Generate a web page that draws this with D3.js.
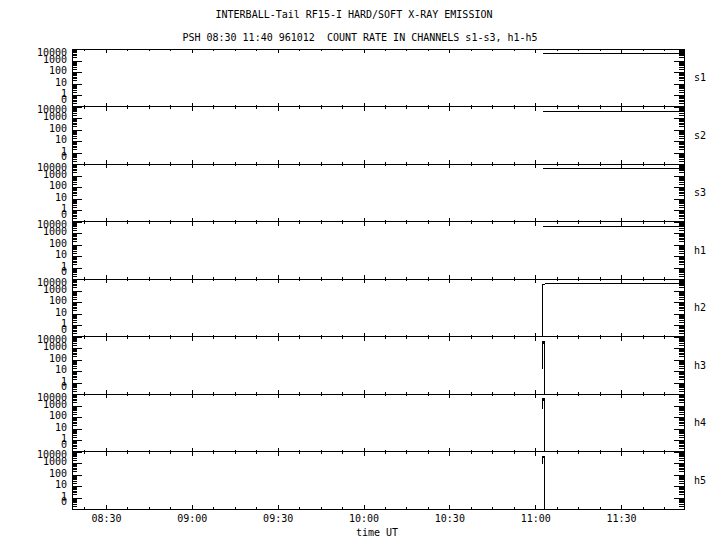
<!DOCTYPE html>
<html>
<head>
<meta charset="utf-8">
<script src="https://cdn.jsdelivr.net/npm/d3@7"></script>
<style>
  body { margin: 0; background: #fff; }
  svg { display: block; }
  text { font-family: "DejaVu Sans Mono", monospace; font-size: 10px; fill: #000; }
</style>
</head>
<body>
<div id="chart"></div>
<script>
// channel names, top to bottom
const channels = ["s1", "s2", "s3", "h1", "h2", "h3", "h4", "h5"];

// count rates: [UT time, counts]
const s1 = [["11:02:40", 3700], ["11:52:00", 3700]];
const s2 = [["11:02:40", 3200], ["11:03:00", 3900], ["11:52:00", 3900]];
const s3 = [["11:02:40", 3700], ["11:52:00", 3700]];
const h1 = [["11:02:40", 3900], ["11:52:00", 3900]];
const h2 = [["11:02:40", 0.1], ["11:02:41", 3300], ["11:03:20", 3700], ["11:52:00", 3700]];
const h3 = [["11:02:41", 14], ["11:02:42", 4000], ["11:03:02", 2600], ["11:03:23", 4000], ["11:03:24", 0.1]];
const h4 = [["11:02:41", 470], ["11:02:42", 4500], ["11:03:02", 2600], ["11:03:23", 4500], ["11:03:24", 0.1]];
const h5 = [["11:02:41", 770], ["11:02:42", 4300], ["11:03:02", 2900], ["11:03:23", 4300], ["11:03:24", 0.1]];
const series = { s1, s2, s3, h1, h2, h3, h4, h5 };

// axes
const yTickValues = [10000, 1000, 100, 10, 1, 0];
const yTickLabels = ["10000", "1000", "100", "10", "1", "0"];
const xMajorTicks = ["08:30", "09:00", "09:30", "10:00", "10:30", "11:00", "11:30"];
const timeStart = "08:18:08";
const timeEnd = "11:52:00";

const title = "INTERBALL-Tail RF15-I HARD/SOFT X-RAY EMISSION";
const subtitle = "PSH 08:30 11:40 961012  COUNT RATE IN CHANNELS s1-s3, h1-h5";

const width = 720, height = 550;
const plotLeft = 72, plotRight = 684, plotTop = 49;
const panelH = 57.5;
const zeroPos = 0.316; // where the "0" label sits on the log axis

const parseT = s => d3.utcParse("%Y-%m-%d %H:%M:%S")("1996-10-12 " + (s.length === 5 ? s + ":00" : s));

const x = d3.scaleUtc()
  .domain([parseT(timeStart), parseT(timeEnd)])
  .range([plotLeft, plotRight]);

const y = d3.scaleLog()
  .domain([0.1, 10000])
  .range([panelH, 0]);

const majors = xMajorTicks.map(parseT);
const step = 7.5 * 60 * 1000;
const [t0, t1] = x.domain().map(Number);
const minors = d3.range(Math.ceil(t0 / step) * step, t1, step)
  .map(t => new Date(t))
  .filter(t => !majors.some(m => +m === +t));

const decades = [0.1, 1, 10, 100, 1000, 10000];
const logMinors = [];
decades.slice(0, -1).forEach(d => { for (let k = 2; k <= 9; k++) logMinors.push(d * k); });

const svg = d3.select("#chart")
  .append("svg")
  .attr("width", width)
  .attr("height", height)
  .attr("shape-rendering", "crispEdges");

svg.append("text")
  .attr("x", 354).attr("y", 18)
  .attr("text-anchor", "middle")
  .text(title);

svg.append("text")
  .attr("x", 360).attr("y", 41)
  .attr("text-anchor", "middle")
  .style("white-space", "pre")
  .text(subtitle);

const line = d3.line()
  .x(d => x(parseT(d[0])))
  .y(d => y(d[1]));

const clean = g => g.select(".domain").remove();

channels.forEach((ch, i) => {
  const g = svg.append("g").attr("transform", `translate(0,${plotTop + i * panelH})`);

  g.append("rect")
    .attr("x", plotLeft).attr("y", 0)
    .attr("width", plotRight - plotLeft).attr("height", panelH)
    .attr("fill", "none").attr("stroke", "#000");

  // time ticks on top and bottom edges, pointing inward
  g.append("g").call(d3.axisTop(x).tickValues(majors).tickSize(-4).tickFormat("")).call(clean);
  g.append("g").call(d3.axisTop(x).tickValues(minors).tickSize(-2).tickFormat("")).call(clean);
  g.append("g").attr("transform", `translate(0,${panelH})`)
    .call(d3.axisBottom(x).tickValues(majors).tickSize(-4).tickFormat("")).call(clean);
  g.append("g").attr("transform", `translate(0,${panelH})`)
    .call(d3.axisBottom(x).tickValues(minors).tickSize(-2).tickFormat("")).call(clean);

  // log ticks on left and right edges, pointing inward
  g.append("g").attr("transform", `translate(${plotLeft},0)`)
    .call(d3.axisLeft(y).tickValues(logMinors).tickSize(-5).tickFormat("")).call(clean);
  g.append("g").attr("transform", `translate(${plotLeft},0)`)
    .call(d3.axisLeft(y).tickValues(decades).tickSize(-10).tickFormat("")).call(clean);
  g.append("g").attr("transform", `translate(${plotRight},0)`)
    .call(d3.axisRight(y).tickValues(logMinors).tickSize(-5).tickFormat("")).call(clean);
  g.append("g").attr("transform", `translate(${plotRight},0)`)
    .call(d3.axisRight(y).tickValues(decades).tickSize(-10).tickFormat("")).call(clean);

  // count labels
  const labelAxis = g.append("g").attr("transform", `translate(${plotLeft},0)`)
    .call(d3.axisLeft(y)
      .tickValues(yTickValues.map(v => v > 0 ? v : zeroPos))
      .tickSize(0).tickPadding(5)
      .tickFormat((d, j) => yTickLabels[j]))
    .call(clean);
  labelAxis.attr("font-family", null).attr("font-size", null);
  labelAxis.selectAll(".tick")
    .attr("transform", d => `translate(0,${Math.max(y(d) - 1, 3.5)})`);

  g.append("text")
    .attr("x", 694).attr("y", panelH / 2 + 3.5)
    .text(ch);

  g.append("path")
    .datum(series[ch])
    .attr("fill", "none")
    .attr("stroke", "#000")
    .attr("stroke-width", 1)
    .attr("d", line);
});

const plotBottom = plotTop + channels.length * panelH;

svg.append("g")
  .attr("transform", `translate(0,${plotBottom})`)
  .call(d3.axisBottom(x).tickValues(majors).tickSize(0).tickPadding(6).tickFormat(d3.utcFormat("%H:%M")))
  .call(clean)
  .attr("font-family", null).attr("font-size", null);

svg.append("text")
  .attr("x", 377).attr("y", 536)
  .attr("text-anchor", "middle")
  .text("time UT");
</script>
</body>
</html>
